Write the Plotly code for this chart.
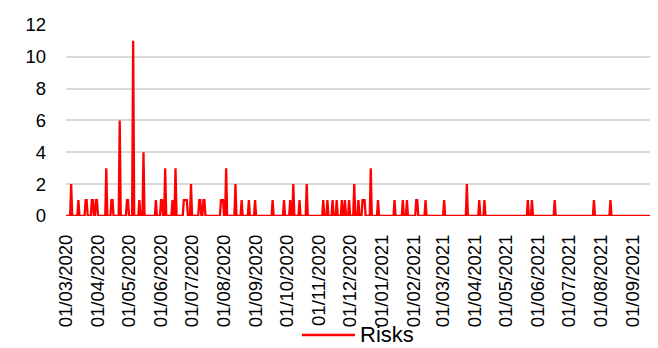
import pandas as pd
import plotly.graph_objects as go

# Period covered by the series (daily)
start_date = "2020-03-01"
end_date = "2021-09-25"

# Days with a non-zero number of risks (all other days are 0)
event_dates = [
    "2020-03-06", "2020-03-13", "2020-03-20", "2020-03-21", "2020-03-26", "2020-03-27",
    "2020-03-30", "2020-03-31", "2020-04-09", "2020-04-14", "2020-04-15", "2020-04-22",
    "2020-04-29", "2020-04-30", "2020-05-05", "2020-05-11", "2020-05-15", "2020-05-27",
    "2020-06-01", "2020-06-02", "2020-06-05", "2020-06-12", "2020-06-15", "2020-06-23",
    "2020-06-24", "2020-06-25", "2020-06-26", "2020-06-30", "2020-07-08", "2020-07-09",
    "2020-07-12", "2020-07-13", "2020-07-29", "2020-07-30", "2020-07-31", "2020-08-03",
    "2020-08-12", "2020-08-18", "2020-08-25", "2020-08-31", "2020-09-17", "2020-09-28",
    "2020-10-04", "2020-10-07", "2020-10-13", "2020-10-20", "2020-11-05", "2020-11-09",
    "2020-11-14", "2020-11-18", "2020-11-23", "2020-11-26", "2020-11-30", "2020-12-05",
    "2020-12-09", "2020-12-13", "2020-12-14", "2020-12-15", "2020-12-21", "2020-12-28",
    "2021-01-13", "2021-01-21", "2021-01-25", "2021-02-03", "2021-02-04", "2021-02-12",
    "2021-03-02", "2021-03-24", "2021-04-05", "2021-04-10", "2021-05-22", "2021-05-26",
    "2021-06-17", "2021-07-25", "2021-08-10",
]
event_values = [
    2, 1, 1, 1, 1, 1,
    1, 1, 3, 1, 1, 6,
    1, 1, 11, 1, 4, 1,
    1, 1, 3, 1, 3, 1,
    1, 1, 1, 2, 1, 1,
    1, 1, 1, 1, 1, 3,
    2, 1, 1, 1, 1, 1,
    1, 2, 1, 2, 1, 1,
    1, 1, 1, 1, 1, 2,
    1, 1, 1, 1, 3, 1,
    1, 1, 1, 1, 1, 1,
    1, 2, 1, 1, 1, 1,
    1, 1, 1,
]

y_ticks = [0, 2, 4, 6, 8, 10, 12]
series_name = "Risks"
line_color = "#ff0000"

dates = pd.date_range(start_date, end_date, freq="D")
series = pd.Series(0, index=dates)
series[pd.to_datetime(event_dates)] = event_values

fig = go.Figure()
fig.add_trace(go.Scatter(
    x=series.index, y=series.values, mode="lines", name=series_name,
    line=dict(color=line_color, width=2.3), showlegend=False,
))

# The page body adds an 8px offset; figure is sized so the plot lands where the reference has it.
W, H = 650, 340
L, T, B = 58, 16, 132
PW, PH = W - L, H - T - B
leg_line_y = 327  # legend key line, in figure pixels

# Legend drawn as a key line + label below the axis labels
fig.add_shape(type="line", xref="paper", yref="paper",
              x0=(294 - L) / PW, x1=(347 - L) / PW,
              y0=(T + PH - leg_line_y) / PH, y1=(T + PH - leg_line_y) / PH,
              line=dict(color=line_color, width=2.5))
fig.add_annotation(text=series_name, xref="paper", yref="paper",
                   x=(351 - L) / PW, y=-B / PH,
                   xanchor="left", yanchor="bottom", showarrow=False,
                   font=dict(size=22, color="#000000"), borderpad=0)

fig.update_layout(
    width=W, height=H,
    margin=dict(l=L, r=0, t=T, b=B, pad=0, autoexpand=False),
    paper_bgcolor="white", plot_bgcolor="white",
    font=dict(family="Liberation Sans, Arial, sans-serif", color="#000000"),
    showlegend=False,
    xaxis=dict(
        type="date", range=[start_date, end_date], automargin=False,
        tick0=start_date, dtick="M1", tickformat="%d/%m/%Y",
        tickangle=-90, tickfont=dict(size=18.5),
        showgrid=False, showline=False, zeroline=False, ticks="",
        ticklabelstandoff=14,
    ),
    yaxis=dict(
        range=[0, 12.05], tickvals=y_ticks, tickfont=dict(size=18.5), automargin=False,
        showgrid=True, gridcolor="#d9d9d9", gridwidth=1.5,
        zeroline=False, showline=False, ticks="",
        ticklabelstandoff=19,
    ),
)

fig.write_html("out.html")
